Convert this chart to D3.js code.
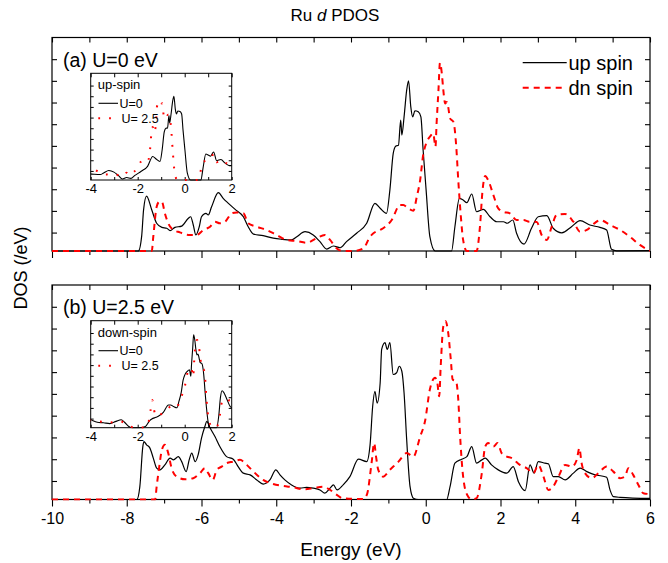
<!DOCTYPE html>
<html>
<head>
<meta charset="utf-8">
<script src="https://cdn.jsdelivr.net/npm/d3@7"></script>
<style>
  body { margin: 0; background: #fff; }
  svg { display: block; font-family: "Liberation Sans", Arial, sans-serif; }
</style>
</head>
<body>
<svg id="chart" width="668" height="563"></svg>
<script>
// Ru d projected DOS, [energy (eV), DOS] pairs
const upU0 = [[-10,0],[-7.69,0],[-7.6,0.7],[-7.55,1.9],[-7.47,2.53],[-7.33,1.89],[-7.2,1.28],[-7.06,1.09],[-6.93,1.05],[-6.84,0.94],[-6.71,1.09],[-6.53,1.15],[-6.35,1.51],[-6.29,1.58],[-6.22,1.2],[-6.15,0.74],[-6.06,1.12],[-6.0,1.58],[-5.88,1.74],[-5.82,1.66],[-5.73,2.04],[-5.55,2.69],[-5.42,2.43],[-5.28,2.2],[-5.1,1.92],[-4.88,1.58],[-4.75,1.12],[-4.61,0.78],[-4.35,0.71],[-4.08,0.59],[-3.85,0.54],[-3.59,0.51],[-3.45,0.66],[-3.23,0.89],[-3.01,0.74],[-2.83,0.43],[-2.65,0.09],[-2.47,0.23],[-2.29,0.15],[-2.12,0.43],[-1.85,0.82],[-1.58,1.28],[-1.36,2.2],[-1.22,1.97],[-1.05,1.74],[-0.96,2.81],[-0.87,4.5],[-0.8,4.84],[-0.73,4.88],[-0.67,6.04],[-0.64,5.35],[-0.58,6.19],[-0.51,7.42],[-0.46,7.85],[-0.4,6.65],[-0.35,6.19],[-0.29,6.47],[-0.2,6.42],[-0.13,6.19],[-0.07,4.65],[0.01,2.81],[0.11,0.66],[0.25,0],[0.69,0],[0.78,1.12],[0.9,2.43],[1.0,2.35],[1.1,2.23],[1.23,2.63],[1.36,1.81],[1.54,1.92],[1.72,1.58],[1.9,1.35],[2.08,1.35],[2.18,1.28],[2.33,1.43],[2.43,0.82],[2.63,0.32],[2.83,1.05],[3.01,1.58],[3.24,1.63],[3.41,1.05],[3.64,0.84],[3.9,1.12],[4.13,1.4],[4.39,1.2],[4.66,1.09],[4.84,0.97],[4.97,0.08],[5.11,0.01],[6,0.02]];

const dnU0 = [[-10,0],[-7.33,0],[-7.29,0.66],[-7.2,2.04],[-7.13,2.27],[-7.06,2.27],[-6.98,1.74],[-6.89,1.28],[-6.75,0.97],[-6.58,0.86],[-6.35,0.74],[-6.13,0.74],[-5.95,0.97],[-5.77,1.12],[-5.64,1.35],[-5.51,1.28],[-5.37,1.35],[-5.19,1.74],[-5.06,1.78],[-4.88,1.74],[-4.75,1.28],[-4.52,1.12],[-4.26,0.97],[-3.99,0.74],[-3.72,0.51],[-3.45,0.46],[-3.19,0.38],[-2.92,0.59],[-2.7,0.74],[-2.56,0.51],[-2.38,0.12],[-2.21,0],[-1.94,0],[-1.67,0.12],[-1.49,0.66],[-1.4,0.82],[-1.22,0.97],[-1.14,1.05],[-0.91,1.43],[-0.69,2.12],[-0.6,2.12],[-0.47,1.97],[-0.33,1.86],[-0.24,2.5],[-0.15,3.27],[-0.07,4.42],[0.01,4.96],[0.11,5.27],[0.2,5.42],[0.26,4.81],[0.29,5.88],[0.34,7.42],[0.38,8.68],[0.43,8.19],[0.47,7.42],[0.52,6.81],[0.56,6.88],[0.6,6.65],[0.65,6.12],[0.74,5.96],[0.81,4.96],[0.87,3.27],[0.94,1.58],[1.0,0.51],[1.1,0],[1.36,0],[1.45,1.12],[1.52,2.81],[1.59,3.46],[1.67,3.27],[1.81,2.58],[1.94,1.97],[2.08,1.81],[2.25,1.74],[2.43,1.43],[2.61,1.43],[2.77,1.35],[2.97,1.34],[3.1,0.74],[3.24,0.51],[3.37,1.12],[3.5,1.66],[3.73,1.71],[3.95,1.35],[4.13,0.89],[4.31,0.97],[4.53,1.3],[4.66,1.43],[4.93,1.2],[5.2,0.97],[5.46,0.66],[5.73,0.28],[6,0.01]];

const upU25 = [[-10,0],[-7.73,0],[-7.65,0.59],[-7.57,2.43],[-7.54,2.66],[-7.47,2.51],[-7.38,2.36],[-7.29,1.9],[-7.2,1.44],[-7.11,1.36],[-6.98,1.59],[-6.84,1.9],[-6.75,1.82],[-6.62,1.97],[-6.53,1.74],[-6.41,1.28],[-6.33,1.82],[-6.26,2.13],[-6.17,1.74],[-6.09,2.05],[-6.0,2.82],[-5.91,3.35],[-5.86,3.59],[-5.77,3.28],[-5.64,2.89],[-5.51,2.43],[-5.33,1.97],[-5.15,1.85],[-5.02,1.51],[-4.88,1.21],[-4.7,1.13],[-4.52,0.9],[-4.35,0.71],[-4.17,0.9],[-4.01,1.36],[-3.9,1.13],[-3.77,0.9],[-3.59,0.67],[-3.36,0.52],[-3.19,0.56],[-3.01,0.52],[-2.83,0.44],[-2.7,0.29],[-2.56,0.52],[-2.47,0.67],[-2.37,0.44],[-2.21,0.67],[-2.03,1.05],[-1.8,1.85],[-1.58,1.74],[-1.49,2.51],[-1.42,4.28],[-1.36,4.97],[-1.3,4.43],[-1.22,5.35],[-1.18,6.89],[-1.09,7.2],[-1.03,6.89],[-0.96,7.2],[-0.87,5.74],[-0.78,5.82],[-0.71,6.12],[-0.64,5.89],[-0.58,4.89],[-0.51,2.74],[-0.42,0.59],[-0.33,0.06],[-0.2,0],[0.56,0],[0.65,0.59],[0.78,1.67],[0.96,1.85],[1.1,1.97],[1.23,2.43],[1.36,1.67],[1.5,1.82],[1.59,1.9],[1.76,1.59],[1.94,1.36],[2.17,1.21],[2.34,1.51],[2.48,0.82],[2.66,0.41],[2.79,1.59],[2.9,1.21],[3.01,1.74],[3.19,1.67],[3.28,1.64],[3.41,1.05],[3.55,1.05],[3.73,0.9],[3.95,1.21],[4.13,1.44],[4.31,1.28],[4.53,1.13],[4.71,1.08],[4.84,1.02],[4.93,0.44],[5.02,0.13],[5.2,0.1],[6,0.05]];

const dnU25 = [[-10,0],[-7.24,0],[-7.2,0.59],[-7.13,1.51],[-7.06,2.28],[-6.98,2.51],[-6.89,2.13],[-6.8,1.44],[-6.66,1.05],[-6.44,0.93],[-6.22,0.98],[-6.04,1.21],[-5.91,1.44],[-5.82,1.21],[-5.7,0.9],[-5.59,1.36],[-5.46,1.51],[-5.33,1.67],[-5.15,1.74],[-4.97,1.82],[-4.79,1.59],[-4.61,1.28],[-4.35,0.9],[-4.08,0.71],[-3.81,0.62],[-3.54,0.56],[-3.28,0.47],[-3.01,0.52],[-2.74,0.59],[-2.56,0.44],[-2.38,0.21],[-2.21,0.05],[-1.67,0.02],[-1.57,0.25],[-1.45,1.67],[-1.38,2.59],[-1.33,1.97],[-1.27,1.36],[-1.14,1.05],[-0.96,1.36],[-0.73,1.74],[-0.51,2.13],[-0.33,1.97],[-0.15,2.89],[-0.02,3.59],[0.11,5.05],[0.25,5.59],[0.31,5.35],[0.36,4.74],[0.4,6.12],[0.47,7.96],[0.53,8.19],[0.6,7.66],[0.67,6.43],[0.72,5.51],[0.81,5.43],[0.87,4.59],[0.92,2.89],[1.0,1.05],[1.11,0.21],[1.23,0.01],[1.36,0.06],[1.5,1.21],[1.59,2.43],[1.67,2.59],[1.81,2.43],[1.92,2.59],[2.03,2.13],[2.17,1.97],[2.3,1.9],[2.52,1.59],[2.7,1.44],[2.88,1.21],[3.01,1.59],[3.15,1.05],[3.28,0.44],[3.41,0.59],[3.55,1.05],[3.73,1.59],[3.91,1.51],[4.04,1.82],[4.11,2.36],[4.17,1.67],[4.26,1.21],[4.44,0.98],[4.62,1.21],[4.84,1.51],[5.02,1.28],[5.2,0.98],[5.33,1.05],[5.42,1.44],[5.55,1.13],[5.69,0.67],[5.82,0.29],[6,0.25]];

// axis ticks
const energyTicks = [-10, -8, -6, -4, -2, 0, 2, 4, 6];
const energyMinor = [-9, -7, -5, -3, -1, 1, 3, 5];
const insetTicks = [-4, -2, 0, 2];
const insetMinor = [-3, -1, 1];
const dosTicks = [0.85, 1.85, 2.85, 3.85, 4.85, 5.85, 6.85, 7.85, 8.85];

const svg = d3.select("#chart");
const RED = "#ff0000";
const fmt = d => String(d);

const x = d3.scaleLinear().domain([-10, 6]).range([52, 650]);

const panels = [
  { top: 37.5, bottom: 251, up: upU0, dn: dnU0, tag: "(a) U=0 eV", legend: true, labels: false,
    inset: { top: 73.3, bottom: 180, title: "up-spin", a: upU0, b: upU25 } },
  { top: 285, bottom: 499.5, up: upU25, dn: dnU25, tag: "(b) U=2.5 eV", legend: false, labels: true,
    inset: { top: 320.7, bottom: 427.7, title: "down-spin", a: dnU0, b: dnU25 } }
];

const defs = svg.append("defs");

function stripDomain(g) { g.select(".domain").remove(); }

panels.forEach((p, i) => {
  const y = d3.scaleLinear().domain([0, 9.85]).range([p.bottom, p.top]);
  const g = svg.append("g");
  const [xl, xr] = x.range();

  // frame
  g.append("rect").attr("x", xl).attr("y", p.top).attr("width", xr - xl).attr("height", p.bottom - p.top)
    .attr("fill", "none").attr("stroke", "#000").attr("stroke-width", 1.2);

  // ticks
  g.append("g").attr("transform", `translate(0,${p.top})`)
    .call(d3.axisTop(x).tickValues(energyTicks.concat(energyMinor)).tickSize(-5).tickFormat(""))
    .call(stripDomain);
  const bot = g.append("g").attr("transform", `translate(0,${p.bottom})`)
    .call(d3.axisBottom(x).tickValues(energyTicks).tickSize(7).tickPadding(6)
      .tickFormat(p.labels ? fmt : ""))
    .call(stripDomain);
  bot.selectAll("text").attr("font-size", 16).attr("font-family", "Liberation Sans, Arial, sans-serif").attr("fill", "#000");
  g.append("g").attr("transform", `translate(0,${p.bottom})`)
    .call(d3.axisBottom(x).tickValues(energyMinor).tickSize(4).tickFormat(""))
    .call(stripDomain);
  g.append("g").attr("transform", `translate(${xl},0)`)
    .call(d3.axisLeft(y).tickValues(dosTicks).tickSize(-5).tickFormat(""))
    .call(stripDomain);
  g.append("g").attr("transform", `translate(${xr},0)`)
    .call(d3.axisRight(y).tickValues(dosTicks).tickSize(-5).tickFormat(""))
    .call(stripDomain);
  g.selectAll(".tick line").attr("stroke", "#000").attr("stroke-width", 1.1);

  // curves
  const clipId = "clipMain" + i;
  defs.append("clipPath").attr("id", clipId).append("rect")
    .attr("x", xl).attr("y", p.top - 2).attr("width", xr - xl).attr("height", p.bottom - p.top + 3);
  const line = d3.line().x(d => x(d[0])).y(d => y(d[1])).curve(d3.curveMonotoneX);
  const cg = g.append("g").attr("clip-path", `url(#${clipId})`);
  cg.append("path").datum(p.up).attr("d", line).attr("fill", "none")
    .attr("stroke", "#000").attr("stroke-width", 1.2);
  cg.append("path").datum(p.dn).attr("d", line).attr("fill", "none")
    .attr("stroke", RED).attr("stroke-width", 2).attr("stroke-dasharray", "6,5");

  // panel tag
  g.append("text").attr("x", 63).attr("y", p.top + 29).attr("font-size", 19.5).text(p.tag);

  // legend
  if (p.legend) {
    const items = [
      { label: "up spin", color: "#000", dash: null, w: 1.2 },
      { label: "dn spin", color: RED, dash: "6,5", w: 2 }
    ];
    items.forEach((it, k) => {
      const ly = 62.7 + k * 25;
      g.append("line").attr("x1", 522.7).attr("x2", 566.7).attr("y1", ly).attr("y2", ly)
        .attr("stroke", it.color).attr("stroke-width", it.w).attr("stroke-dasharray", it.dash);
      g.append("text").attr("x", 568.5).attr("y", ly + 7).attr("font-size", 20).text(it.label);
    });
  }

  // inset
  const ins = p.inset;
  const xi = d3.scaleLinear().domain([-4, 2]).range([90.7, 231.7]);
  const yi = d3.scaleLinear().domain([0, 10]).range([ins.bottom, ins.top]);
  const ig = svg.append("g");
  const [il, ir] = xi.range();
  ig.append("rect").attr("x", il).attr("y", ins.top).attr("width", ir - il).attr("height", ins.bottom - ins.top)
    .attr("fill", "none").attr("stroke", "#000").attr("stroke-width", 1);
  ig.append("g").attr("transform", `translate(0,${ins.top})`)
    .call(d3.axisTop(xi).tickValues(insetTicks.concat(insetMinor)).tickSize(-4).tickFormat(""))
    .call(stripDomain);
  const ib = ig.append("g").attr("transform", `translate(0,${ins.bottom})`)
    .call(d3.axisBottom(xi).tickValues(insetTicks).tickSize(-3).tickPadding(4).tickFormat(fmt))
    .call(stripDomain);
  ib.selectAll("text").attr("font-size", 13).attr("font-family", "Liberation Sans, Arial, sans-serif").attr("fill", "#000");
  ig.append("g").attr("transform", `translate(0,${ins.bottom})`)
    .call(d3.axisBottom(xi).tickValues(insetMinor).tickSize(-3).tickFormat(""))
    .call(stripDomain);
  ig.append("g").attr("transform", `translate(${il},0)`)
    .call(d3.axisLeft(yi).tickValues(dosTicks).tickSize(-3).tickFormat(""))
    .call(stripDomain);
  ig.append("g").attr("transform", `translate(${ir},0)`)
    .call(d3.axisRight(yi).tickValues(dosTicks).tickSize(-3).tickFormat(""))
    .call(stripDomain);
  ig.selectAll(".tick line").attr("stroke", "#000").attr("stroke-width", 1);

  const iclip = "clipInset" + i;
  defs.append("clipPath").attr("id", iclip).append("rect")
    .attr("x", il).attr("y", ins.top).attr("width", ir - il).attr("height", ins.bottom - ins.top + 1);
  const iline = d3.line().x(d => xi(d[0])).y(d => yi(d[1])).curve(d3.curveMonotoneX);
  const icg = ig.append("g").attr("clip-path", `url(#${iclip})`);
  icg.append("path").datum(ins.a).attr("d", iline).attr("fill", "none")
    .attr("stroke", "#000").attr("stroke-width", 1.1);
  icg.append("path").datum(ins.b).attr("d", iline).attr("fill", "none")
    .attr("stroke", RED).attr("stroke-width", 2).attr("stroke-dasharray", "1.8,9");

  ig.append("text").attr("x", 97.7).attr("y", ins.top + 16).attr("font-size", 13).text(ins.title);
  ig.append("line").attr("x1", 98.5).attr("x2", 118).attr("y1", ins.top + 30).attr("y2", ins.top + 30)
    .attr("stroke", "#000").attr("stroke-width", 1.1);
  ig.append("text").attr("x", 119.5).attr("y", ins.top + 34.5).attr("font-size", 12.5).text("U=0");
  ig.append("line").attr("x1", 98.3).attr("x2", 112).attr("y1", ins.top + 45).attr("y2", ins.top + 45)
    .attr("stroke", RED).attr("stroke-width", 2).attr("stroke-dasharray", "1.8,9");
  ig.append("text").attr("x", 121.5).attr("y", ins.top + 49.5).attr("font-size", 12.5).text("U= 2.5");
});

// titles
svg.append("text").attr("x", 335).attr("y", 20.5).attr("text-anchor", "middle").attr("font-size", 17)
  .call(t => {
    t.append("tspan").text("Ru ");
    t.append("tspan").attr("font-style", "italic").text("d");
    t.append("tspan").text(" PDOS");
  });
svg.append("text").attr("x", 351).attr("y", 556).attr("text-anchor", "middle").attr("font-size", 19)
  .text("Energy (eV)");
svg.append("text").attr("transform", "translate(27,268) rotate(-90)").attr("text-anchor", "middle")
  .attr("font-size", 18).text("DOS (/eV)");
</script>
</body>
</html>
